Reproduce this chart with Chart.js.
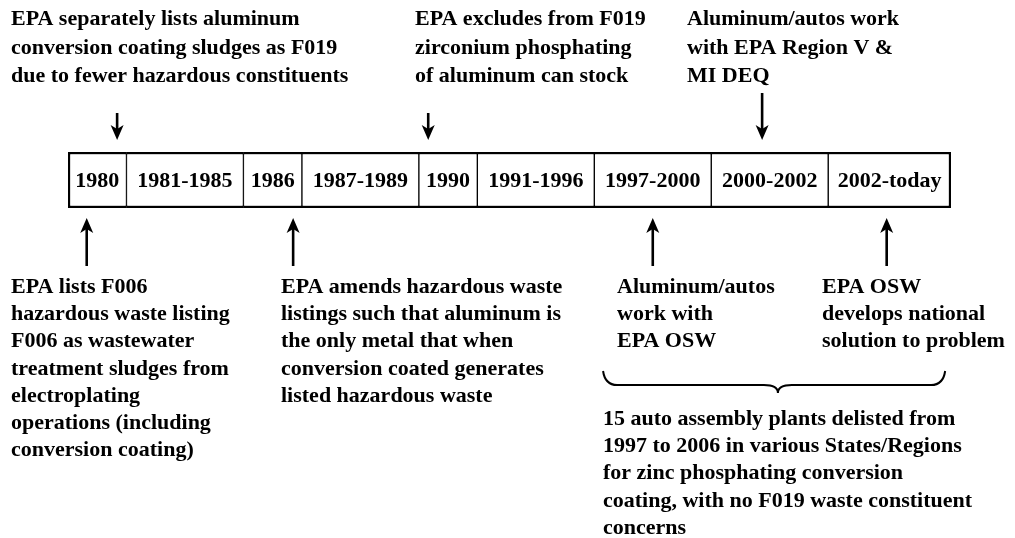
<!DOCTYPE html>
<html>
<head>
<meta charset="utf-8">
<script src="https://cdn.jsdelivr.net/npm/chart.js@4.4.1/dist/chart.umd.min.js"></script>
<style>
  html, body { margin: 0; padding: 0; background: #fff; }
  #wrap { width: 1015px; height: 538px; }
</style>
</head>
<body>
<div id="wrap"><canvas id="timeline" width="1015" height="538"></canvas></div>
<script>
// periods shown in the bar, left to right
const periods = ["1980", "1981-1985", "1986", "1987-1989", "1990", "1991-1996", "1997-2000", "2000-2002", "2002-today"];
// width of each period box, in timeline units
const periodSpan = [1, 2, 1, 2, 1, 2, 2, 2, 2.1];

// where the arrows touch the bar, in timeline units
const topArrowAt = [0.84, 6.16, 11.87];
const bottomArrowAt = [0.32, 3.85, 10, 14];

// brace under the last two bottom notes, in timeline units
const braceSpan = [9.15, 15.0];
const braceTip = 12.14;

const topNotes = [
  ["EPA separately lists aluminum", "conversion coating sludges as F019", "due to fewer hazardous constituents"],
  ["EPA excludes from F019", "zirconium phosphating", "of aluminum can stock"],
  ["Aluminum/autos work", "with EPA Region V &", "MI DEQ"]
];
const bottomNotes = [
  ["EPA lists F006", "hazardous waste listing", "F006 as wastewater", "treatment sludges from", "electroplating", "operations (including", "conversion coating)"],
  ["EPA amends hazardous waste", "listings such that aluminum is", "the only metal that when", "conversion coated generates", "listed hazardous waste"],
  ["Aluminum/autos", "work with", "EPA OSW"],
  ["EPA OSW", "develops national", "solution to problem"]
];
const braceNote = ["15 auto assembly plants delisted from", "1997 to 2006 in various States/Regions", "for zinc phosphating conversion", "coating, with no F019 waste constituent", "concerns"];

// page layout (pixels)
const FONT = 'bold 22px "Liberation Serif", "Times New Roman", serif';
const TOP_LINE_H = 28.5;
const LINE_H = 27.2;
const topNoteX = [11, 415, 687];
const topNoteY = 25;
const topArrowLen = [27, 27, 47];
const bottomNoteX = [11, 281, 617, 822];
const bottomNoteY = 293;
const braceNoteX = 603;
const braceNoteY = 425;

function drawArrow(ctx, x, tail, tip) {
  const dir = Math.sign(tip - tail);
  ctx.lineWidth = 2.6;
  ctx.beginPath();
  ctx.moveTo(x, tail);
  ctx.lineTo(x, tip - dir * 8);
  ctx.stroke();
  ctx.beginPath();
  ctx.moveTo(x, tip);
  ctx.lineTo(x - 6.5, tip - dir * 15);
  ctx.lineTo(x, tip - dir * 11);
  ctx.lineTo(x + 6.5, tip - dir * 15);
  ctx.closePath();
  ctx.fill();
}

function drawLines(ctx, lines, x, y, lh) {
  lines.forEach((t, i) => ctx.fillText(t, x, y + i * lh));
}

const notesPlugin = {
  id: 'notes',
  afterDatasetsDraw(chart) {
    const ctx = chart.ctx;
    const xs = chart.scales.x;
    const area = chart.chartArea;
    ctx.save();
    ctx.fillStyle = '#000';
    ctx.strokeStyle = '#000';
    ctx.font = FONT;

    // period labels centred in each box
    ctx.textAlign = 'center';
    ctx.textBaseline = 'middle';
    periods.forEach((p, i) => {
      const el = chart.getDatasetMeta(i).data[0];
      ctx.fillText(p, (el.x + el.base) / 2, el.y + 1);
    });

    // notes
    ctx.textAlign = 'left';
    ctx.textBaseline = 'alphabetic';
    topNotes.forEach((n, i) => drawLines(ctx, n, topNoteX[i], topNoteY, TOP_LINE_H));
    bottomNotes.forEach((n, i) => drawLines(ctx, n, bottomNoteX[i], bottomNoteY, LINE_H));
    drawLines(ctx, braceNote, braceNoteX, braceNoteY, LINE_H);

    // arrows
    topArrowAt.forEach((v, i) => {
      const x = xs.getPixelForValue(v);
      drawArrow(ctx, x, area.top - 12 - topArrowLen[i], area.top - 12);
    });
    bottomArrowAt.forEach(v => {
      const x = xs.getPixelForValue(v);
      drawArrow(ctx, x, area.bottom + 58, area.bottom + 10);
    });

    // curly brace
    const x0 = xs.getPixelForValue(braceSpan[0]);
    const x1 = xs.getPixelForValue(braceSpan[1]);
    const xc = xs.getPixelForValue(braceTip);
    const yTop = 371, yMid = 385, yTip = 393, r = 14;
    ctx.lineWidth = 2;
    ctx.beginPath();
    ctx.moveTo(x0, yTop);
    ctx.quadraticCurveTo(x0 + 2, yMid, x0 + r, yMid);
    ctx.lineTo(xc - r, yMid);
    ctx.quadraticCurveTo(xc, yMid, xc, yTip);
    ctx.quadraticCurveTo(xc, yMid, xc + r, yMid);
    ctx.lineTo(x1 - r, yMid);
    ctx.quadraticCurveTo(x1 - 2, yMid, x1, yTop);
    ctx.stroke();
    ctx.restore();
  }
};

const total = periodSpan.reduce((a, b) => a + b, 0);
const last = periods.length - 1;

new Chart(document.getElementById('timeline'), {
  type: 'bar',
  data: {
    labels: ['timeline'],
    datasets: periods.map((p, i) => ({
      label: p,
      data: [periodSpan[i]],
      backgroundColor: '#ffffff',
      borderColor: '#000000',
      borderWidth: { top: 2.5, bottom: 2.5, left: i === 0 ? 2.5 : 1, right: i === last ? 2.5 : 1 },
      borderSkipped: false,
      barPercentage: 1,
      categoryPercentage: 1
    }))
  },
  options: {
    indexAxis: 'y',
    responsive: false,
    animation: false,
    events: [],
    layout: { padding: { left: 68, right: 64, top: 152, bottom: 330 } },
    scales: {
      x: { type: 'linear', stacked: true, min: 0, max: total, display: false },
      y: { stacked: true, display: false }
    },
    plugins: { legend: { display: false }, tooltip: { enabled: false } }
  },
  plugins: [notesPlugin]
});
</script>
</body>
</html>
